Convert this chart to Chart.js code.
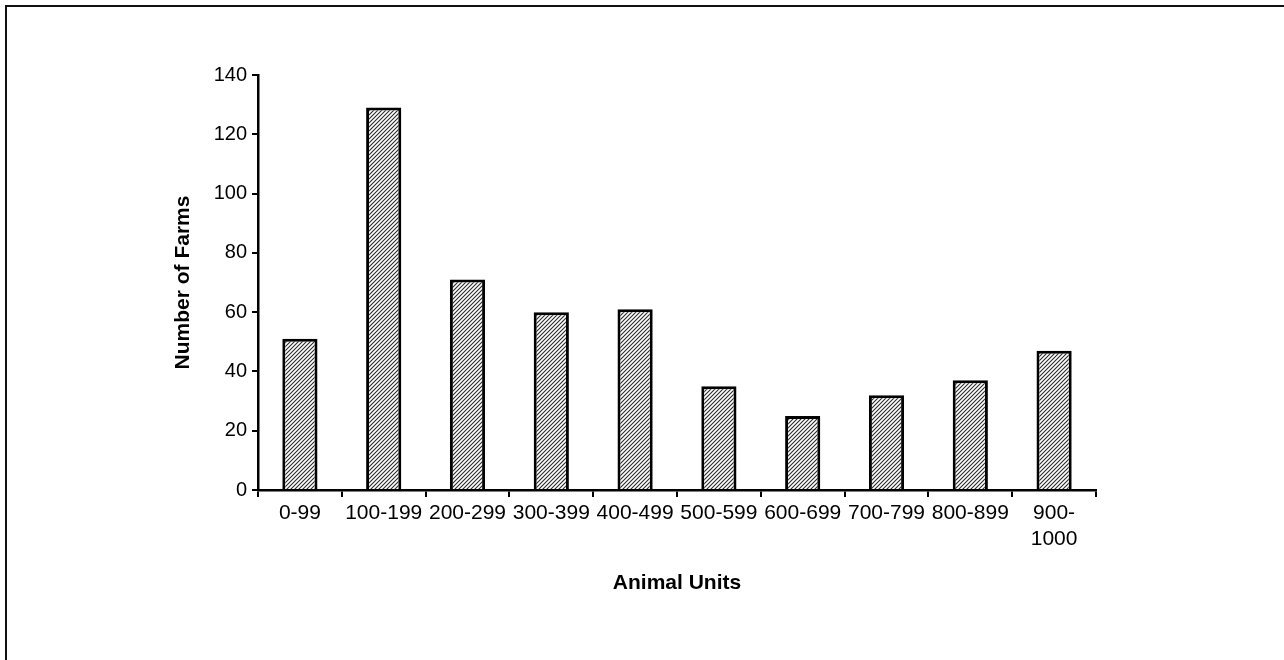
<!DOCTYPE html>
<html>
<head>
<meta charset="utf-8">
<script src="https://cdn.jsdelivr.net/npm/chart.js@4.4.0/dist/chart.umd.min.js"></script>
<style>
  html, body { margin: 0; padding: 0; background: #fff; }
  #wrap { position: relative; width: 1284px; height: 660px; }
  #frame {
    position: absolute; left: 5px; top: 5px; width: 1290px; height: 670px;
    border-left: 2px solid #111; border-top: 2px solid #111;
  }
  canvas { position: absolute; left: 0; top: 0; }
</style>
</head>
<body>
<div id="wrap">
  <div id="frame"></div>
  <canvas id="chart" width="1284" height="660"></canvas>
</div>
<script>
const categories = ["0-99", "100-199", "200-299", "300-399", "400-499", "500-599", "600-699", "700-799", "800-899", ["900-", "1000"]];
const farms = [51, 129, 71, 60, 61, 35, 25, 32, 37, 47];
const yTicks = [0, 20, 40, 60, 80, 100, 120, 140];

// diagonal hatch like the scanned original
const makeHatch = () => {
  const size = 4;
  const c = document.createElement("canvas");
  c.width = size;
  c.height = size;
  const ctx = c.getContext("2d");
  ctx.fillStyle = "#fff";
  ctx.fillRect(0, 0, size, size);
  ctx.strokeStyle = "#2a2a2a";
  ctx.lineWidth = 1.1;
  ctx.beginPath();
  ctx.moveTo(0, size);
  ctx.lineTo(size, 0);
  ctx.moveTo(-1, 1);
  ctx.lineTo(1, -1);
  ctx.moveTo(size - 1, size + 1);
  ctx.lineTo(size + 1, size - 1);
  ctx.stroke();
  return c.getContext("2d").createPattern(c, "repeat");
};

const font = "'Liberation Sans', Arial, sans-serif";

new Chart(document.getElementById("chart"), {
  type: "bar",
  data: {
    labels: categories,
    datasets: [
      {
        data: farms,
        backgroundColor: makeHatch(),
        borderColor: "#000",
        borderWidth: 3,
        borderSkipped: "bottom",
        barPercentage: 0.42,
        categoryPercentage: 1,
      },
    ],
  },
  options: {
    responsive: false,
    animation: false,
    layout: { padding: { left: 0, top: 75, right: 188, bottom: 0 } },
    plugins: { legend: { display: false }, tooltip: { enabled: false } },
    scales: {
      x: {
        grid: {
          offset: true,
          drawOnChartArea: false,
          drawTicks: true,
          tickLength: 7,
          color: "#000",
          lineWidth: 2,
        },
        border: { color: "#000", width: 2.5 },
        ticks: {
          color: "#000",
          font: { family: font, size: 21 },
          padding: 4,
          maxRotation: 0,
          autoSkip: false,
        },
        title: {
          display: true,
          text: "Animal Units",
          color: "#000",
          font: { family: font, size: 21, weight: "bold" },
          padding: { top: 0, bottom: 64 },
        },
        afterFit: (scale) => {
          scale.height = 170;
        },
      },
      y: {
        min: 0,
        max: 140,
        afterBuildTicks: (scale) => {
          scale.ticks = yTicks.map((v) => ({ value: v }));
        },
        grid: {
          drawOnChartArea: false,
          drawTicks: true,
          tickLength: 6,
          color: "#000",
          lineWidth: 2,
        },
        border: { color: "#000", width: 2.5 },
        ticks: {
          color: "#000",
          font: { family: font, size: 20 },
          padding: 5,
        },
        title: {
          display: true,
          text: "Number of Farms",
          color: "#000",
          font: { family: font, size: 21, weight: "bold" },
          padding: { top: 171, bottom: 0 },
        },
        afterFit: (scale) => {
          scale.width = 258;
        },
      },
    },
  },
});
</script>
</body>
</html>
